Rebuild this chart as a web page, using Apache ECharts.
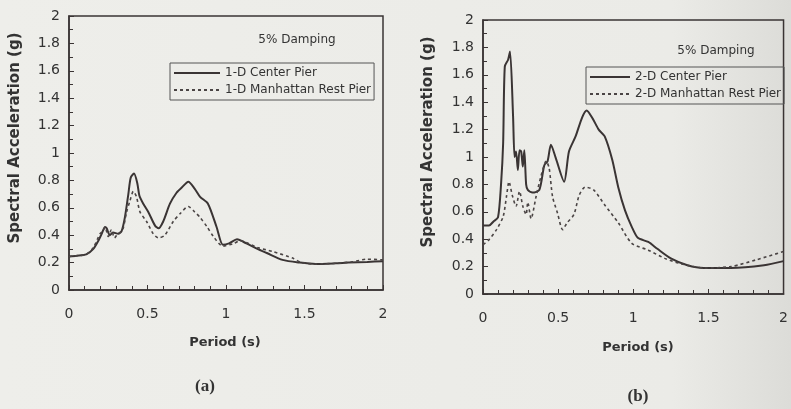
<!DOCTYPE html>
<html>
<head>
<meta charset="utf-8">
<script src="https://cdn.jsdelivr.net/npm/echarts@6/dist/echarts.min.js"></script>
<style>html,body{margin:0;padding:0;}#c{width:791px;height:409px;}</style>
</head>
<body>
<div id="c"></div>
<script>
// ---- Data ----
const xTicks = [0, 0.5, 1, 1.5, 2];
const yTicks = [0, 0.2, 0.4, 0.6, 0.8, 1, 1.2, 1.4, 1.6, 1.8, 2];

// (a) 1-D Center Pier
const periodA1 = [0, 0.05, 0.11, 0.155, 0.187, 0.208, 0.23, 0.24, 0.26, 0.28, 0.314, 0.335, 0.356, 0.378, 0.393, 0.414, 0.435, 0.448, 0.473, 0.505, 0.548, 0.57, 0.6, 0.643, 0.685, 0.72, 0.76, 0.8, 0.835, 0.885, 0.94, 0.98, 1.02, 1.07, 1.13, 1.2, 1.26, 1.36, 1.47, 1.57, 1.7, 1.78, 1.9, 2.0];
const valueA1  = [0.245, 0.25, 0.26, 0.3, 0.36, 0.41, 0.46, 0.45, 0.4, 0.42, 0.41, 0.43, 0.53, 0.7, 0.82, 0.85, 0.78, 0.69, 0.63, 0.57, 0.47, 0.45, 0.5, 0.63, 0.71, 0.75, 0.79, 0.74, 0.68, 0.63, 0.46, 0.33, 0.34, 0.37, 0.34, 0.3, 0.27, 0.22, 0.2, 0.19, 0.195, 0.2, 0.205, 0.21];

// (a) 1-D Manhattan Rest Pier
const periodA2 = [0, 0.05, 0.11, 0.155, 0.197, 0.215, 0.23, 0.25, 0.27, 0.29, 0.31, 0.325, 0.345, 0.367, 0.388, 0.41, 0.43, 0.452, 0.494, 0.537, 0.57, 0.61, 0.664, 0.71, 0.76, 0.8, 0.835, 0.88, 0.92, 0.98, 1.05, 1.09, 1.2, 1.3, 1.43, 1.48, 1.57, 1.7, 1.8, 1.9, 2.0];
const valueA2  = [0.245, 0.25, 0.26, 0.31, 0.41, 0.43, 0.46, 0.39, 0.44, 0.38, 0.41, 0.42, 0.45, 0.57, 0.65, 0.72, 0.68, 0.57, 0.5, 0.41, 0.38, 0.4, 0.5, 0.56, 0.61, 0.57, 0.53, 0.46, 0.39, 0.32, 0.34, 0.36, 0.31, 0.28, 0.23, 0.2, 0.19, 0.195, 0.205, 0.225, 0.22];

// (b) 2-D Center Pier
const periodB1 = [0, 0.04, 0.07, 0.1, 0.12, 0.134, 0.145, 0.167, 0.18, 0.2, 0.21, 0.22, 0.232, 0.243, 0.254, 0.265, 0.275, 0.287, 0.298, 0.33, 0.375, 0.408, 0.43, 0.452, 0.485, 0.54, 0.572, 0.616, 0.66, 0.69, 0.73, 0.77, 0.81, 0.86, 0.9, 0.945, 0.99, 1.03, 1.1, 1.16, 1.25, 1.36, 1.47, 1.53, 1.65, 1.87, 2.0];
const valueB1  = [0.5, 0.5, 0.53, 0.56, 0.8, 1.1, 1.66, 1.71, 1.77, 1.3, 1.0, 1.04, 0.905, 1.05, 1.04, 0.93, 1.05, 0.8, 0.76, 0.74, 0.76, 0.94, 0.97, 1.09, 0.99, 0.82, 1.04, 1.15, 1.29, 1.34, 1.28, 1.2, 1.15, 0.98, 0.78, 0.61, 0.49, 0.41, 0.38, 0.33, 0.26, 0.21, 0.19, 0.19, 0.19, 0.21, 0.24];

// (b) 2-D Manhattan Rest Pier
const periodB2 = [0, 0.035, 0.09, 0.134, 0.156, 0.173, 0.195, 0.22, 0.243, 0.265, 0.287, 0.298, 0.32, 0.353, 0.386, 0.42, 0.44, 0.463, 0.496, 0.53, 0.56, 0.605, 0.64, 0.68, 0.736, 0.81, 0.9, 0.99, 1.1, 1.21, 1.32, 1.47, 1.65, 1.82, 2.0];
const valueB2  = [0.36, 0.39, 0.47, 0.565, 0.71, 0.82, 0.72, 0.64, 0.75, 0.64, 0.58, 0.67, 0.55, 0.71, 0.86, 0.97, 0.92, 0.71, 0.59, 0.47, 0.52, 0.58, 0.72, 0.78, 0.76, 0.65, 0.52, 0.37, 0.32, 0.26, 0.22, 0.19, 0.2, 0.25, 0.31];

const nameA1 = '1-D Center Pier';
const nameA2 = '1-D Manhattan Rest Pier';
const nameB1 = '2-D Center Pier';
const nameB2 = '2-D Manhattan Rest Pier';

// ---- Chart ----
const zip = (xs, ys) => xs.map((x, i) => [x, ys[i]]);
const ink = '#3a3434';
const font = 'DejaVu Sans';

function xAxis(gi) {
  return {
    type: 'value', gridIndex: gi, min: xTicks[0], max: xTicks[xTicks.length - 1], interval: 0.5,
    axisLine: { show: true, lineStyle: { color: ink, width: 1.5 } },
    axisTick: { show: true, inside: true, length: 5, lineStyle: { color: ink } },
    minorTick: { show: true, splitNumber: 5, length: 4, lineStyle: { color: ink } },
    splitLine: { show: false },
    axisLabel: { color: '#333', fontFamily: font, fontSize: 14, margin: 17,
      formatter: v => String(v) }
  };
}
function yAxis(gi) {
  return {
    type: 'value', gridIndex: gi, min: yTicks[0], max: yTicks[yTicks.length - 1], interval: 0.2,
    axisLine: { show: true, lineStyle: { color: ink, width: 1.5 } },
    axisTick: { show: true, inside: true, length: 5, lineStyle: { color: ink } },
    minorTick: { show: true, splitNumber: 2, length: 4, lineStyle: { color: ink } },
    splitLine: { show: false },
    axisLabel: { color: '#333', fontFamily: font, fontSize: 14, margin: 9,
      formatter: v => String(Math.round(v * 10) / 10) }
  };
}
function line(name, data, gi, dashed) {
  return {
    name, type: 'line', xAxisIndex: gi, yAxisIndex: gi, data,
    symbol: 'none', smooth: 0.25, animation: false,
    itemStyle: { color: ink },
    lineStyle: dashed ? { color: '#4a4444', width: 1.6, type: [3, 3] } : { color: ink, width: 2 }
  };
}
function legend(names, left, top, iw) {
  return {
    data: names, orient: 'vertical', left, top, itemWidth: iw, itemHeight: 14, itemGap: 5,
    padding: [4, 3, 4, 3], borderColor: '#555', borderWidth: 1, selectedMode: false,
    itemStyle: { opacity: 0 },
    textStyle: { color: '#333', fontFamily: font, fontSize: 12 }
  };
}
function txt(x, y, text, size, weight, rot, fam) {
  return { type: 'text', x, y, rotation: rot || 0,
    style: { text, fill: '#333', font: (weight || 'normal') + ' ' + size + 'px "' + (fam || font) + '"',
      textAlign: 'center', textVerticalAlign: 'middle' } };
}

const chart = echarts.init(document.getElementById('c'), null, { renderer: 'canvas' });
chart.setOption({
  animation: false,
  backgroundColor: { type: 'linear', x: 0, y: 0, x2: 1, y2: 0,
    colorStops: [{ offset: 0, color: '#eeeeea' }, { offset: 0.85, color: '#ebebe7' }, { offset: 1, color: '#dcdcd8' }] },
  grid: [
    { left: 69, top: 16, width: 314, height: 274, show: true, borderColor: ink, borderWidth: 1.5, backgroundColor: 'transparent' },
    { left: 483, top: 20, width: 304, height: 274, show: true, borderColor: ink, borderWidth: 1.5, backgroundColor: 'transparent' }
  ],
  xAxis: [xAxis(0), xAxis(1)],
  yAxis: [yAxis(0), yAxis(1)],
  legend: [legend([nameA1, nameA2], 170, 63, 46), legend([nameB1, nameB2], 586, 67, 40)],
  series: [
    line(nameA1, zip(periodA1, valueA1), 0, false),
    line(nameA2, zip(periodA2, valueA2), 0, true),
    line(nameB1, zip(periodB1, valueB1), 1, false),
    line(nameB2, zip(periodB2, valueB2), 1, true)
  ],
  graphic: [
    txt(15, 138, 'Spectral Acceleration (g)', 15, 'bold', Math.PI / 2),
    txt(428, 142, 'Spectral Acceleration (g)', 15, 'bold', Math.PI / 2),
    txt(225, 343, 'Period (s)', 13, 'bold'),
    txt(638, 348, 'Period (s)', 13, 'bold'),
    txt(297, 40, '5% Damping', 12, 'normal'),
    txt(716, 51, '5% Damping', 12, 'normal'),
    txt(205, 387, '(a)', 17, 'bold', 0, 'Liberation Serif'),
    txt(638, 397, '(b)', 17, 'bold', 0, 'Liberation Serif')
  ]
});
</script>
</body>
</html>
